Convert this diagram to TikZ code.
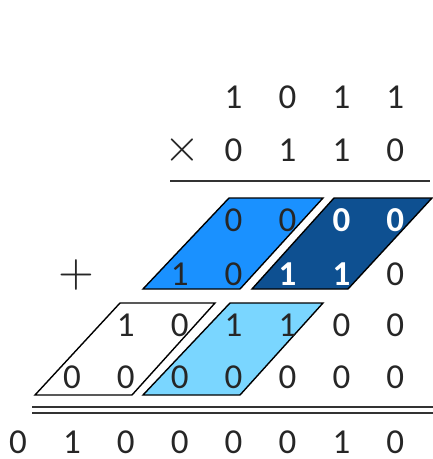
\documentclass[tikz,border=0pt]{standalone}
\usepackage{fontspec}
\setmainfont{Carlito}
\usepackage{tikz}
\usetikzlibrary{positioning}
\usepackage{xcolor}

\definecolor{blockmid}{RGB}{26,145,255}
\definecolor{blockdark}{RGB}{14,80,145}
\definecolor{blockpale}{RGB}{122,214,255}

\begin{document}
\begin{tikzpicture}[
		x=1pt, y=-1pt,
		digit/.style={
			font=\fontsize{35}{40}\selectfont,
			text=black!85,
			inner sep=0pt
		},
		hidigit/.style={
			digit,
			font=\fontsize{35}{40}\selectfont\bfseries,
			text=white
		},
		sign/.style={
			scale=4.6,
			text=black!85,
			inner sep=0pt
		},
		block/.style={
			draw=black,
			line width=1.4pt
		},
		rule/.style={
			draw=black!80,
			line width=1.8pt
		}
		]
		\useasboundingbox (0,0) rectangle (433,459);
		
		% blocks
		\filldraw[block, fill=blockmid] (229,198) -- (323,198) -- (240,289) -- (143,289) -- cycle;
		\filldraw[block, fill=blockdark] (334,198) -- (432,198) -- (348,289) -- (252,289) -- cycle;
		\draw[block] (120,303) -- (215,303) -- (132,395) -- (35,395) -- cycle;
		\filldraw[block, fill=blockpale] (230,303) -- (323,303) -- (240,395) -- (143,395) -- cycle;
		
		% operands
		\foreach \d [count=\i from 4] in {1,0,1,1}
			\node[digit] (mcand\i) at ({18+53.9*\i},97) {\d};
		\foreach \d [count=\i from 4] in {0,1,1,0}
			\node[digit] (mplier\i) at ({18+53.9*\i},150) {\d};
		\node[sign] (times) at (182,150) {$\times$};
		%--
		\draw[rule] (170,181) -- (430,181);
		
		% partial products
		\foreach \d/\s [count=\i from 4] in {0/digit,0/digit,0/hidigit,0/hidigit}
			\node[\s] (pa\i) at ({18+53.9*\i},220) {\d};
		\foreach \d/\s [count=\i from 3] in {1/digit,0/digit,1/hidigit,1/hidigit,0/digit}
			\node[\s] (pb\i) at ({18+53.9*\i},274) {\d};
		\foreach \d [count=\i from 2] in {1,0,1,1,0,0}
			\node[digit] (pc\i) at ({18+53.9*\i},325) {\d};
		\foreach \d [count=\i from 1] in {0,0,0,0,0,0,0}
			\node[digit] (pd\i) at ({18+53.9*\i},377) {\d};
		\node[sign] (plus) at (76,275) {$+$};
		%--
		\draw[rule, line width=1.4pt] (32,407) -- (433,407);
		\draw[rule, line width=1.4pt] (32,413) -- (433,413);
		
		% sum
		\foreach \d [count=\i from 0] in {0,1,0,0,0,0,1,0}
			\node[digit] (sum\i) at ({18+53.9*\i},442) {\d};
		
	\end{tikzpicture}
\end{document}
